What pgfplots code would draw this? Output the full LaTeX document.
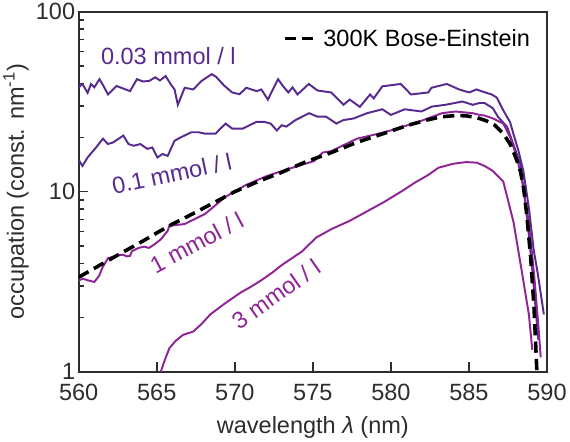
\documentclass[border=0pt]{standalone}
\usepackage{fontspec}
\setmainfont{Liberation Sans}
\usepackage{pgfplots}
\pgfplotsset{compat=1.18}
\definecolor{dpurple}{RGB}{86,42,142}
\definecolor{mpurple}{RGB}{142,36,150}
\definecolor{axgray}{RGB}{45,45,45}

\begin{document}
\begin{tikzpicture}
\begin{axis}[
  ymode=log,
  scale only axis,
  width=458pt, height=352pt,
  xmin=560, xmax=590, ymin=1, ymax=100,
  xtick={560,565,...,590},
  ytick={1,10,100}, yticklabels={1,10,100},
  minor ytick={2,3,4,5,6,7,8,9,20,30,40,50,60,70,80,90},
  xtick pos=lower, ytick pos=left,
  tick align=inside,
  major tick length=9pt, minor tick length=5pt,
  every tick/.style={axgray, line width=1.5pt},
  axis line style={axgray, line width=1.8pt},
  font=\fontsize{23}{27}\selectfont,
  /pgf/number format/assume math mode=true,
  /pgf/number format/1000 sep={},
  tick label style={text=axgray},
  xticklabel style={yshift=-9pt},
  label style={text=axgray},
  xlabel style={yshift=-8pt},
  xlabel={wavelength \textit{λ} (nm)},
  ylabel={occupation (const. nm\textsuperscript{-1})},
  legend style={at={(rel axis cs:0.975,0.926)}, anchor=east, draw=none, fill=none,
                font=\fontsize{23}{27}\selectfont},
  legend image code/.code={\draw[#1] (0pt,0pt) -- (34pt,0pt);},
]
% 0.03 mmol/l
\addplot[dpurple, line width=1.9pt, forget plot] coordinates {
(560.0,38) (560.24,39.7) (560.57,35.4) (560.79,39.7) (561.0,38) (561.33,42.2) (561.6,38.5) (561.88,34.7) (562.42,38.7) (563.29,36.2) (563.73,42.2) (564.1,41.0) (564.50,41.2) (564.91,43.2) (565.2,41.5) (565.57,43.9) (565.9,39.5) (566.14,37.0) (566.35,30.4) (566.79,37.8) (567.34,37.0) (567.86,41.2) (568.52,45.0) (568.8,43.5) (569.3,39.0) (569.83,35.6) (570.3,34.8) (570.74,37.8) (571.40,36.2) (571.7,37.0) (572.12,32.5) (572.77,42.2) (573.1,38.5) (573.43,35.6) (573.7,38.0) (574.02,34.7) (574.74,39.7) (575.3,36.5) (576.18,35.6) (576.96,30.4) (577.36,32.5) (578.01,29.6) (578.67,34.7) (578.9,33.0) (579.45,38.5) (580.63,39.7) (581.29,34.7) (582.40,35.6) (582.60,37.8) (583.58,39.7) (584.37,37.0) (585.02,35.6) (585.48,37.0) (585.87,36.0) (586.46,34.7) (586.79,33.3) (587.18,28.5) (587.64,24.3) (587.84,21.1) (588.17,16.9) (588.49,13.0) (588.85,8.0) (589.15,4.74) (589.41,3.51) (589.80,2.08)
};
% 0.1 mmol/l
\addplot[dpurple, line width=1.9pt, forget plot] coordinates {
(560.0,15.0) (560.24,13.9) (560.57,15.5) (561.11,17.6) (561.55,19.7) (561.88,18.4) (562.21,18.8) (562.86,20.5) (563.19,18.4) (563.52,18.0) (563.95,18.4) (564.39,17.3) (564.72,17.6) (565.04,15.5) (565.37,16.2) (565.70,15.8) (566.14,19.2) (566.57,20.1) (567.22,21.4) (567.66,21.4) (568.10,21.0) (568.76,21.0) (569.08,22.4) (569.41,23.9) (569.84,22.4) (570.50,22.4) (570.94,23.4) (571.38,24.4) (571.92,24.4) (572.3,23.9) (572.69,21.9) (573.01,23.4) (573.3,23.0) (573.89,25.0) (574.76,27.3) (575.31,26.1) (575.85,26.1) (576.51,23.9) (576.95,25.0) (577.60,25.5) (578.47,27.3) (579.45,28.7) (580.00,26.7) (580.88,28.7) (581.96,27.9) (582.62,29.7) (583.50,30.4) (584.58,31.7) (585.24,30.4) (585.68,31.1) (586.00,31.1) (586.53,29.1) (586.86,26.1) (587.45,22.9) (587.84,18.4) (588.30,14.2) (588.76,6.75) (589.08,3.51) (589.30,2.1) (589.45,1.5)
};
% 3 mmol/l
\addplot[mpurple, line width=1.9pt, forget plot] coordinates {
(565.26,1.0) (565.5,1.15) (565.81,1.35) (566.2,1.48) (566.68,1.60) (567.34,1.67) (567.9,1.85) (568.43,2.08) (569.30,2.37) (570.40,2.76) (571.0,2.95) (571.70,3.22) (572.4,3.55) (573.01,3.91) (574.33,4.67) (575.2,5.55) (576.2,6.2) (577.38,6.9) (578.5,7.8) (579.57,8.77) (580.65,10.0) (581.52,11.2) (582.40,12.4) (583.06,13.6) (584.0,14.3) (584.8,14.6) (585.5,14.5) (586.0,13.9) (586.5,13.1) (587.2,11.4) (587.86,6.75) (588.41,3.51) (588.84,2.08) (589.06,1.32)
};
% 1 mmol/l
\addplot[mpurple, line width=1.9pt, forget plot] coordinates {
(560,3.2) (560.24,3.29) (560.57,3.22) (561.0,3.15) (561.3,3.4) (561.55,3.83) (561.88,4.27) (562.21,4.35) (562.53,4.46) (562.86,4.46) (563.08,4.37) (563.29,4.4) (563.41,4.67) (563.84,4.87) (564.2,4.95) (564.50,4.87) (564.83,5.08) (565.26,5.43) (565.70,6.06) (565.81,6.47) (566.79,6.61) (568.10,7.53) (569.41,9.37) (570.72,10.9) (572.03,12.2) (573.34,13.3) (575.08,14.8) (575.63,16.5) (576.18,16.8) (577.82,19.7) (579.0,20.8) (580.0,21.9) (581.75,24.4) (583.27,27.3) (584.15,27.9) (585.24,27.3) (585.68,26.7) (586.0,26.5) (586.55,25.5) (587.20,23.9) (587.64,20.1) (588.08,15.5) (588.41,11.4) (588.84,6.75) (589.17,3.51) (589.45,1.8) (589.6,1.2)
};
% 300 K Bose-Einstein
\addplot[black, line width=3.5pt, dash pattern=on 11pt off 6pt] coordinates {
(560,3.35) (561,3.75) (562,4.2) (563,4.7) (564.17,5.35) (565,5.9) (566,6.6) (567,7.3) (568.54,8.58) (570,10.0) (571.5,11.4) (572.9,12.7) (574.5,14.6) (576.18,16.5) (577.82,18.8) (579.5,21.0) (581.1,23.4) (582.3,25.0) (583.27,26.1) (584.2,26.5) (584.8,26.4) (585.5,25.8) (586.1,24.8) (586.66,23.4) (587.2,21.0) (587.64,18.4) (588.0,15.5) (588.3,13.0) (588.5,10.5) (588.7,7.5) (588.95,4.37) (589.17,2.27) (589.35,1.02)
};
\addlegendentry{300K Bose-Einstein}
\node[dpurple, anchor=west] at (axis cs:561.2,57) {0.03 mmol / l};
\node[dpurple, rotate=12] at (axis cs:565.96,12.6) {0.1 mmol / l};
\node[mpurple, rotate=28] at (axis cs:567.55,5.2) {1 mmol / l};
\node[mpurple, rotate=35] at (axis cs:572.66,2.69) {3 mmol / l};
\end{axis}
\end{tikzpicture}
\end{document}
